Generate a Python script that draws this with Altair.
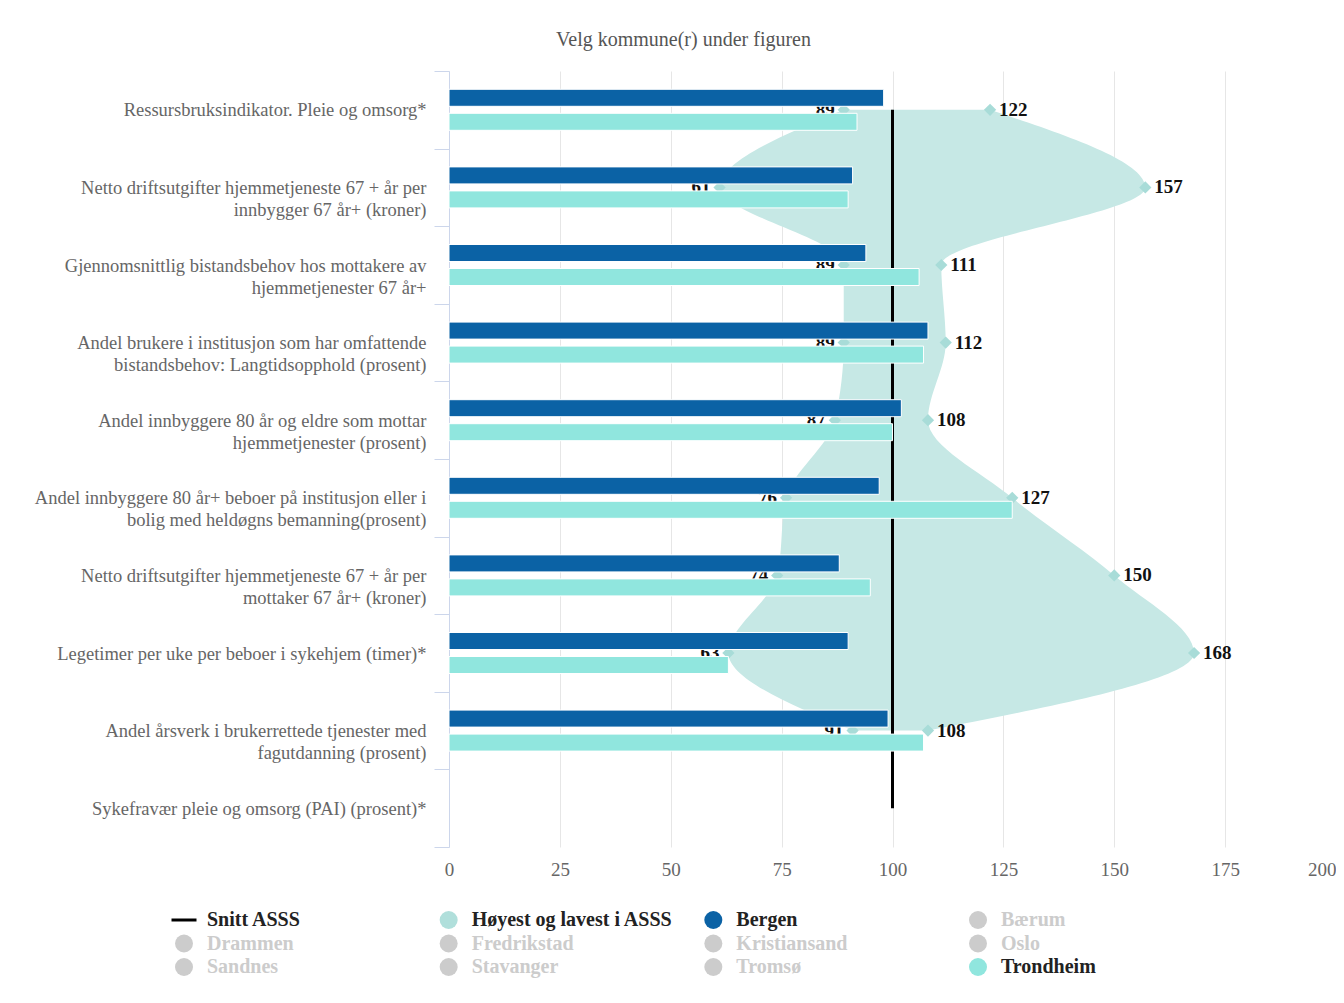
import altair as alt
import pandas as pd

SERIF = "Liberation Serif"

# ---------------- data ----------------
label_lines = [
    ["Ressursbruksindikator. Pleie og omsorg*"],
    ["Netto driftsutgifter hjemmetjeneste 67 + år per", "innbygger 67 år+ (kroner)"],
    ["Gjennomsnittlig bistandsbehov hos mottakere av", "hjemmetjenester 67 år+"],
    ["Andel brukere i institusjon som har omfattende", "bistandsbehov: Langtidsopphold (prosent)"],
    ["Andel innbyggere 80 år og eldre som mottar", "hjemmetjenester (prosent)"],
    ["Andel innbyggere 80 år+ beboer på institusjon eller i", "bolig med heldøgns bemanning(prosent)"],
    ["Netto driftsutgifter hjemmetjeneste 67 + år per", "mottaker 67 år+ (kroner)"],
    ["Legetimer per uke per beboer i sykehjem (timer)*"],
    ["Andel årsverk i brukerrettede tjenester med", "fagutdanning (prosent)"],
    ["Sykefravær pleie og omsorg (PAI) (prosent)*"],
]
categories = ["|".join(l) for l in label_lines]

bergen = [98, 91, 94, 108, 102, 97, 88, 90, 99, None]
trondheim = [92, 90, 106, 107, 100, 127, 95, 63, 107, None]
lowest = [89, 61, 89, 89, 87, 76, 74, 63, 91, None]
highest = [122, 157, 111, 112, 108, 127, 150, 168, 108, None]
snitt = [100, 100, 100, 100, 100, 100, 100, 100, 100, 100]

x_ticks = [0, 25, 50, 75, 100, 125, 150, 175, 200]

legend_names = ["Snitt ASSS", "Høyest og lavest i ASSS", "Bergen", "Bærum",
                "Drammen", "Fredrikstad", "Kristiansand", "Oslo",
                "Sandnes", "Stavanger", "Tromsø", "Trondheim"]
legend_symbol_colors = ["#000000", "#b0dfdb", "#0b62a5", "#cccccc",
                        "#cccccc", "#cccccc", "#cccccc", "#cccccc",
                        "#cccccc", "#cccccc", "#cccccc", "#90e6de"]
legend_text_colors = ["#222222", "#222222", "#222222", "#cccccc",
                      "#cccccc", "#cccccc", "#cccccc", "#cccccc",
                      "#cccccc", "#cccccc", "#cccccc", "#222222"]
legend_shapes = ["stroke"] + ["circle"] * 11

# ---------------- frames ----------------
base = pd.DataFrame({
    "cat": categories,
    "idx": list(range(len(categories))),
    "low": lowest,
    "high": highest,
    "snitt": snitt,
})
rng = base.dropna(subset=["low", "high"])

bars = pd.DataFrame({
    "cat": categories * 2,
    "kommune": ["Bergen"] * len(categories) + ["Trondheim"] * len(categories),
    "value": bergen + trondheim,
}).dropna()

leg = pd.DataFrame({
    "name": legend_names,
    "col": [i % 4 for i in range(len(legend_names))],
    "row": [i // 4 for i in range(len(legend_names))],
    "sym": legend_symbol_colors,
    "txt": legend_text_colors,
    "shape": legend_shapes,
})

# ---------------- scales / axes ----------------
xscale = alt.Scale(domain=[0, 200], nice=False, zero=True)
xaxis = alt.Axis(
    values=x_ticks, grid=True, gridColor="#e6e6e6", domain=False, ticks=False,
    labelFont=SERIF, labelFontSize=19, labelColor="#666666", labelPadding=13,
    labelAlign={"condition": {"test": "datum.value == 200", "value": "right"}, "value": "center"},
    title=None,
)
yscale = alt.Scale(domain=categories, paddingInner=0, paddingOuter=0)
yaxis = alt.Axis(
    title=None,
    labelExpr="isValid(datum.value) ? split(datum.value, '|') : ''",
    labelFont=SERIF, labelFontSize=18.5, labelColor="#666666", labelLimit=700,
    labelLineHeight=22, labelPadding=8, tickBand="extent", tickSize=15,
    tickColor="#ccd6eb", domainColor="#ccd6eb", grid=False,
)

def Yc():
    return alt.Y("cat:N", sort=categories, scale=yscale, axis=yaxis, bandPosition=0.5)

yidx = alt.Y("idx:Q", scale=alt.Scale(domain=[-0.5, 9.5], reverse=True, nice=False, zero=False), axis=None)

# range area between lowest and highest
area = alt.Chart(rng).mark_area(
    orient="horizontal", interpolate="monotone", color="#c6e8e5"
).encode(
    x=alt.X("low:Q", scale=xscale, axis=None),
    x2=alt.X2("high"),
    y=yidx,
)

line = alt.Chart(base).mark_line(color="black", strokeWidth=3).encode(
    x=alt.X("snitt:Q", scale=xscale, axis=xaxis),
    y=Yc(),
    order=alt.Order("idx:Q"),
)

pts_hi = alt.Chart(rng).mark_point(shape="diamond", filled=True, size=150, color="#a8dcd8", opacity=1).encode(
    x=alt.X("high:Q", scale=xscale, axis=xaxis), y=Yc())
pts_lo = alt.Chart(rng).mark_point(shape="diamond", filled=True, size=150, color="#a8dcd8", opacity=1).encode(
    x=alt.X("low:Q", scale=xscale, axis=xaxis), y=Yc())

txt_hi = alt.Chart(rng).mark_text(
    align="left", baseline="middle", dx=9, font=SERIF, fontSize=19, fontWeight="bold", color="#111111"
).encode(x=alt.X("high:Q", scale=xscale, axis=xaxis), y=Yc(), text="high:Q")
txt_lo = alt.Chart(rng).mark_text(
    align="right", baseline="middle", dx=-9, font=SERIF, fontSize=19, fontWeight="bold", color="#111111"
).encode(x=alt.X("low:Q", scale=xscale, axis=xaxis), y=Yc(), text="low:Q")

Yb = alt.Y("cat:N", sort=categories, scale=yscale, axis=yaxis)
bar_colors = alt.Color("kommune:N", scale=alt.Scale(domain=["Bergen", "Trondheim"], range=["#0b62a5", "#90e6de"]), legend=None)
bar_b = alt.Chart(bars).transform_filter("datum.kommune == 'Bergen'").mark_bar(
    height=17, yOffset=-12, stroke="white", strokeWidth=1
).encode(x=alt.X("value:Q", scale=xscale, axis=xaxis), y=Yb, color=bar_colors)
bar_t = alt.Chart(bars).transform_filter("datum.kommune == 'Trondheim'").mark_bar(
    height=17, yOffset=12, stroke="white", strokeWidth=1
).encode(x=alt.X("value:Q", scale=xscale, axis=xaxis), y=Yb, color=bar_colors)

main = alt.layer(line, pts_lo, pts_hi, txt_lo, txt_hi, bar_b, bar_t)

# ---------------- legend (below plot) ----------------
lx = alt.X("col:Q", scale=alt.Scale(domain=[0, 3], range=[-265, 529]), axis=None)
ly = alt.Y("row:Q", scale=alt.Scale(domain=[0, 2], range=[849, 896]), axis=None)

leg_circ = alt.Chart(leg).transform_filter("datum.shape == 'circle'").mark_point(
    filled=True, size=324, opacity=1, shape="circle"
).encode(x=lx, y=ly, color=alt.Color("sym:N", scale=None))
leg_line = alt.Chart(leg).transform_filter("datum.shape == 'stroke'").mark_point(
    filled=False, size=625, strokeWidth=3, opacity=1, shape="stroke"
).encode(x=lx, y=ly, color=alt.Color("sym:N", scale=None))
leg_txt = alt.Chart(leg).mark_text(
    align="left", baseline="middle", dx=23, font=SERIF, fontSize=20, fontWeight="bold"
).encode(x=lx, y=ly, text="name:N", color=alt.Color("txt:N", scale=None))

legend = alt.layer(leg_circ, leg_line, leg_txt)

chart = alt.layer(area, main, legend).resolve_scale(
    x="independent", y="independent", color="independent"
).properties(
    width=887,
    height=776,
    background="white",
    padding={"left": 441, "top": 63, "right": 0, "bottom": 135},
    autosize=alt.AutoSizeParams(type="none"),
    title=alt.TitleParams(
        text="Velg kommune(r) under figuren", font=SERIF, fontSize=20,
        fontWeight="normal", color="#555555", dx=-209, offset=12,
    ),
).configure_view(strokeWidth=0)

chart.save("out.html", embed_options={"renderer": "svg", "actions": False})
